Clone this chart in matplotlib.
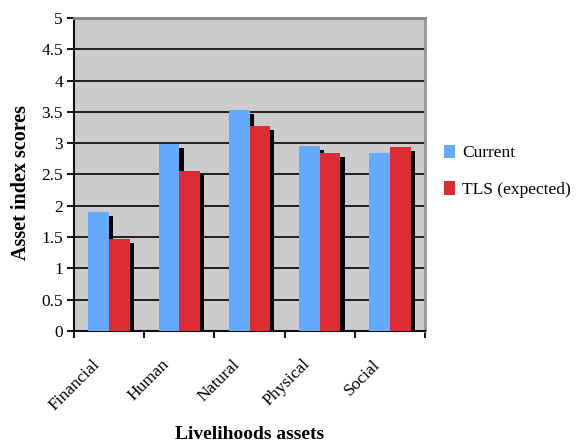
import matplotlib
matplotlib.use("Agg")
import matplotlib.pyplot as plt
from matplotlib.patches import Patch
from matplotlib.transforms import ScaledTranslation, blended_transform_factory
import numpy as np

categories = ["Financial", "Human", "Natural", "Physical", "Social"]
current = [1.90, 2.99, 3.53, 2.95, 2.84]
tls_expected = [1.47, 2.55, 3.27, 2.84, 2.94]
series_names = ["Current", "TLS (expected)"]
yticks = [0, 0.5, 1, 1.5, 2, 2.5, 3, 3.5, 4, 4.5, 5]
ytick_labels = ["0", "0.5", "1", "1.5", "2", "2.5", "3", "3.5", "4", "4.5", "5"]

plt.rcParams['font.family'] = ['Liberation Serif', 'DejaVu Serif']

fig = plt.figure(figsize=(5.81, 4.45), dpi=100)
ax = fig.add_axes([0.1274, 0.2562, 0.6041, 0.7034])
ax.set_facecolor("#CCCCCC")

x = np.arange(len(categories))
w = 0.295
blue = "#66AAFF"
red = "#DD2C33"
dx = 0.06
dy = 0.065

ax.set_xlim(-0.5, len(categories) - 0.5)
ax.set_ylim(0, 5)
for yv in yticks[1:]:
    ax.axhline(yv, color="#111111", lw=1.3, zorder=1)
ax.axhline(5, color="#888888", lw=2.0, zorder=1)

cur = np.array(current)
tls = np.array(tls_expected)
# shadows
ax.bar(x - w / 2 + dx, cur - dy, w, color="black", zorder=2)
ax.bar(x + w / 2 + dx, tls - dy, w, color="black", zorder=2)
ax.bar(x - w / 2, cur, w, color=blue, zorder=3)
ax.bar(x + w / 2, tls, w, color=red, zorder=4)

ax.set_yticks(yticks)
ax.set_yticklabels(ytick_labels, fontsize=12.5)
ax.set_xticks(np.arange(len(categories) + 1) - 0.5)
ax.set_xticklabels([])
ax.tick_params(axis="x", length=5, width=1.3, direction="out")
ax.tick_params(axis="y", length=5, width=1.3, direction="out", pad=3)

# rotated category labels
trans = blended_transform_factory(ax.transData, ax.transAxes) + \
    ScaledTranslation(-0.12, -0.31, fig.dpi_scale_trans)
for xi, cat in zip(x, categories):
    ax.text(xi, 0, cat, transform=trans, rotation=45, ha="right", va="center",
            rotation_mode="anchor", fontsize=12.5, clip_on=False)

for s in ["left", "bottom"]:
    ax.spines[s].set_color("#111111")
    ax.spines[s].set_linewidth(1.5)
ax.spines["right"].set_color("#999999")
ax.spines["right"].set_linewidth(2)
ax.spines["top"].set_color("#888888")
ax.spines["top"].set_linewidth(2)

ax.set_ylabel("Asset index scores", fontsize=14.5, fontweight="bold")
ax.yaxis.set_label_coords(-0.123, 0.473)
ax.set_xlabel("Livelihoods assets", fontsize=14, fontweight="bold")
ax.xaxis.set_label_coords(0.5, -0.305)

handles = [Patch(facecolor=blue, label=series_names[0]),
           Patch(facecolor=red, label=series_names[1])]
fig.legend(handles=handles, loc="center left", bbox_to_anchor=(0.738, 0.615),
           frameon=False, fontsize=12.5, handlelength=0.6, handleheight=0.8,
           handletextpad=0.4, labelspacing=1.15)

fig.savefig("out.png", dpi=100)
